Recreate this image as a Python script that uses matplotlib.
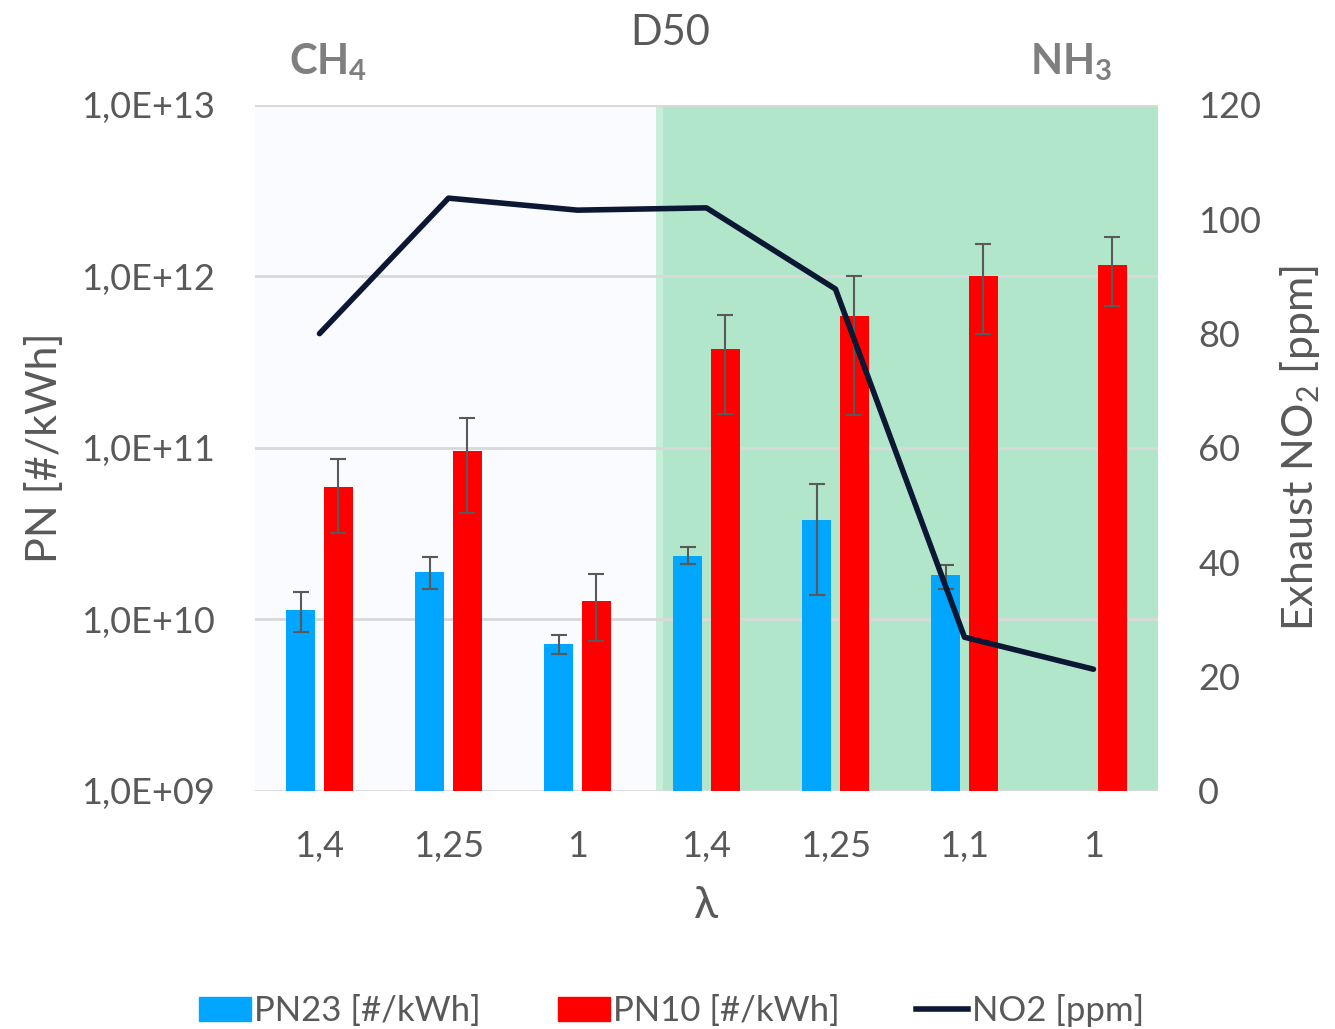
import matplotlib
matplotlib.use('Agg')
import matplotlib.pyplot as plt
import numpy as np
from matplotlib.patches import Patch
from matplotlib.lines import Line2D

plt.rcParams['font.family'] = ['Lato', 'DejaVu Sans']
plt.rcParams['mathtext.fontset'] = 'custom'
plt.rcParams['mathtext.rm'] = 'Lato'
plt.rcParams['mathtext.bf'] = 'Lato:bold'

# data
lambdas = ['1,4', '1,25', '1', '1,4', '1,25', '1,1', '1']
pn23 = [1.14e10, 1.9e10, 7.15e9, 2.36e10, 3.78e10, 1.81e10, np.nan]
pn23_hi = [1.44e10, 2.3e10, 8.1e9, 2.63e10, 6.2e10, 2.07e10, np.nan]
pn23_lo = [8.5e9, 1.5e10, 6.25e9, 2.12e10, 1.38e10, 1.5e10, np.nan]
pn10 = [5.9e10, 9.6e10, 1.29e10, 3.8e11, 5.85e11, 1.0e12, 1.17e12]
pn10_hi = [8.6e10, 1.5e11, 1.83e10, 6.0e11, 1.0e12, 1.55e12, 1.69e12]
pn10_lo = [3.2e10, 4.15e10, 7.5e9, 1.58e11, 1.55e11, 4.6e11, 6.7e11]
no2 = [80, 103.7, 101.6, 102, 87.8, 26.9, 21.3]

GRAY = '#595959'
BLUE = '#00a6ff'
RED = '#ff0000'
NAVY = '#0c1733'

fig = plt.figure(figsize=(13.35, 10.29), dpi=100)
ax = fig.add_axes([0.191, 0.2313, 0.6764, 0.6667])
x = np.arange(len(lambdas))
w = 0.225
off = 0.144

# shaded regions for fuel type
ax.axvspan(-0.5, 2.612, color='#fafbff', zorder=0, lw=0)
ax.axvspan(2.612, 2.666, color='#c6eed9', zorder=0, lw=0)
ax.axvspan(2.666, 6.5, color='#b2e6ca', zorder=0, lw=0)

ax.set_yscale('log')
ax.set_ylim(1e9, 1e13)
ax.set_xlim(-0.5, 6.5)
ax.set_yticks([1e9, 1e10, 1e11, 1e12, 1e13])
ax.set_yticklabels(['1,0E+09', '1,0E+10', '1,0E+11', '1,0E+12', '1,0E+13'])
ax.minorticks_off()
ax.yaxis.grid(True, color='#d9d9d9', lw=2, zorder=0.5)
ax.set_axisbelow(True)

p23 = np.array(pn23)
p10 = np.array(pn10)
err23 = [p23 - np.array(pn23_lo), np.array(pn23_hi) - p23]
err10 = [p10 - np.array(pn10_lo), np.array(pn10_hi) - p10]
ax.bar(x - off, p23, width=w, color=BLUE, zorder=2)
ax.bar(x + off, p10, width=w, color=RED, zorder=2)
ax.errorbar(x - off, p23, yerr=err23, fmt='none', ecolor=GRAY, elinewidth=1.5,
            capsize=6, capthick=1.5, zorder=3)
ax.errorbar(x + off, p10, yerr=err10, fmt='none', ecolor=GRAY, elinewidth=1.5,
            capsize=6, capthick=1.5, zorder=3)

ax.set_xticks(x)
ax.set_xticklabels(lambdas)
for s in ax.spines.values():
    s.set_visible(False)
ax.tick_params(axis='both', length=0, labelsize=26, labelcolor=GRAY)
ax.tick_params(axis='x', pad=28)
ax.tick_params(axis='y', pad=29)
ax.set_ylabel('PN [#/kWh]', fontsize=31, color=GRAY, labelpad=12)
ax.set_xlabel('λ', fontsize=32, color=GRAY, labelpad=16)

ax2 = ax.twinx()
ax2.plot(x, no2, color=NAVY, lw=4, solid_capstyle='round', zorder=4)
ax2.set_ylim(0, 120)
ax2.set_yticks(range(0, 121, 20))
for s in ax2.spines.values():
    s.set_visible(False)
ax2.tick_params(axis='y', length=0, labelsize=26, labelcolor=GRAY, pad=29)
ax2.set_ylabel(r'Exhaust NO$_2$ [ppm]', fontsize=31, color=GRAY, labelpad=12)

fig.text(0.502, 0.968, 'D50', fontsize=30, color=GRAY, ha='center', va='center')
fig.text(0.246, 0.94, r'$\mathbf{CH_4}$', fontsize=30, color='#7f7f7f', ha='center', va='center')
fig.text(0.802, 0.94, r'$\mathbf{NH_3}$', fontsize=30, color='#7f7f7f', ha='center', va='center')

handles = [Patch(color=BLUE), Patch(color=RED), Line2D([], [], color=NAVY, lw=4)]
fig.legend(handles, ['PN23 [#/kWh]', 'PN10 [#/kWh]', 'NO2 [ppm]'], loc='center',
           bbox_to_anchor=(0.503, 0.018), ncol=3, frameon=False, fontsize=25,
           labelcolor=GRAY, handlelength=1.5, handletextpad=0.1, columnspacing=2.2)

fig.savefig('out.png', dpi=100)
